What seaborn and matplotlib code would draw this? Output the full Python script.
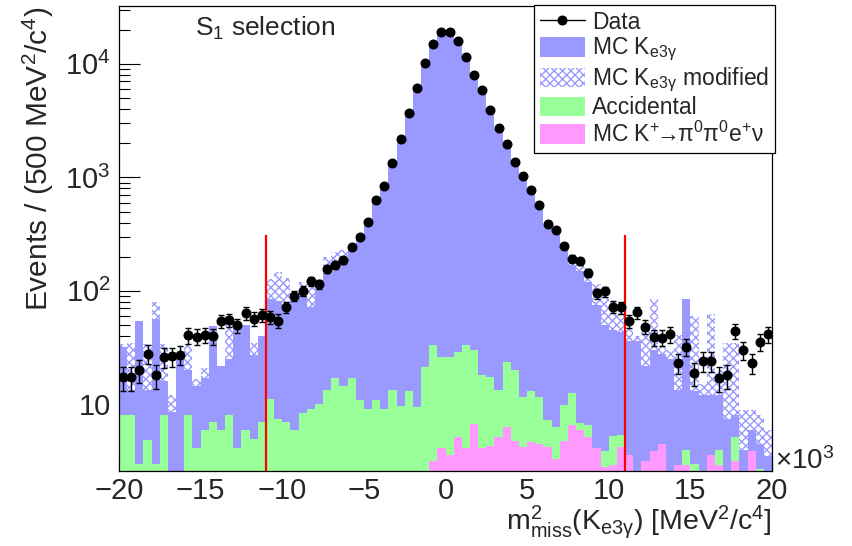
import numpy as np
import pandas as pd
import matplotlib
matplotlib.use("Agg")
import matplotlib.pyplot as plt
import seaborn as sns
from matplotlib.lines import Line2D
from matplotlib.patches import Patch
from matplotlib.ticker import FixedLocator, LogLocator, MultipleLocator, NullFormatter, FixedFormatter

# ---------------- data (x in units of 10^3 MeV^2/c^4, 80 bins of 0.5) ----------------
x_range = (-20, 20)
bin_width = 0.5
bin_centers = np.arange(x_range[0] + bin_width / 2, x_range[1], bin_width)

data = [17.3, 17.3, 20, 28, 18, 26, 26.5, 27.4, 40.6, 39.5,
        41, 40, 54, 55.5, 50, 63.7, 57, 61, 59, 54.6,
        72, 91, 100, 121, 114, 155, 170, 186, 244, 296,
        402, 627, 845, 1345, 2170, 3670, 6160, 10070, 14900, 18970,
        18970, 15900, 11370, 7930, 5870, 3950, 2700, 1960, 1375, 1037,
        769, 573, 392, 343, 250, 192, 183, 144, 95, 99,
        72.5, 71.6, 54.5, 64.7, 48.5, 39, 38.8, 41.5, 23.2, 32.2,
        18.9, 24, 24, 17.1, 18, 44.4, 30, 23.2, 35.4, 41.5]

# MC Ke3gamma (stacked total, visible blue top)
mc_ke3g = [32, 13.5, 54, 13.5, 56, 16, 8.5, 26, 20, 14.5,
           17, 49, 22, 25, 50, 50, 27, 40, 85, 82,
           75, 95, 100, 72, 115, 140, 150, 175, 240, 300,
           400, 620, 850, 1350, 2200, 3700, 6200, 10100, 15000, 19000,
           19000, 15800, 11300, 7900, 5800, 3900, 2650, 1900, 1350, 1000,
           750, 560, 380, 320, 230, 170, 150, 120, 75, 50,
           45, 43, 36, 36, 22, 30, 28, 25, 13.5, 85,
           13, 12, 12, 12, 7.5, 8, 4, 6, 4.5, 3.5]

# MC Ke3gamma modified (stacked total)
mc_ke3g_mod = [34, 35, 54, 34, 79, 34, 12, 26, 34, 16.6,
               21, 49, 22, 60, 50, 50, 35, 40, 128, 146,
               130, 95, 120, 125, 115, 200, 220, 230, 240, 300,
               400, 620, 850, 1350, 2200, 3700, 6200, 10100, 15000, 19000,
               19000, 15800, 11300, 7900, 5800, 3900, 2650, 1900, 1350, 1000,
               750, 560, 380, 350, 260, 200, 190, 160, 115, 104,
               80, 80, 46, 40, 46, 85, 33, 30, 41, 85,
               60, 15, 62, 20, 35, 35, 9, 9, 8, 6]

# Accidental (stacked on top of K -> pi0 pi0 e nu)
accidental = [8.1, 8.1, 3.0, 4.9, 3.0, 8.1, 0, 0, 8.1, 4.1,
              6.0, 7.0, 6.0, 8.1, 4.1, 6.0, 5.0, 7.0, 11.1, 7.4,
              7.0, 6.0, 8.4, 9.1, 10.1, 13.5, 17.1, 14.4, 17.1, 11.0,
              9.1, 11.0, 9.1, 13.5, 9.7, 13.0, 9.4, 21.4, 33.1, 26.3,
              26.3, 28.9, 33.1, 30.1, 18.3, 17.3, 13.3, 23.5, 20, 11.6,
              13.0, 11.6, 7.3, 6.35, 9.9, 12.6, 6.8, 6.6, 0, 3.9,
              5.25, 5.4, 0, 0, 0, 0, 0, 0, 0, 4.0,
              3.0, 0, 0, 4.0, 0, 5.2, 0, 0, 2.7, 0]

# MC K+ -> pi0 pi0 e+ nu
mc_k2pi0e = [0] * 38 + [3.2, 4.1,
             3.6, 5.2, 4.1, 6.7, 4.1, 4.3, 5.2, 6.3, 4.8, 4.2,
             4.7, 4.5, 4.2, 3.3, 4.8, 6.6, 5.9, 5.2, 4.1, 2.8,
             2.9, 4.2, 3.6, 0, 3.2, 3.9, 4.5, 0, 2.9, 2.9,
             0, 0, 3.6, 2.9, 0, 3.2, 0, 3.9, 0, 0]

cut_positions = [-11, 11]
cut_line_top = 310

x_ticks = [-20, -15, -10, -5, 0, 5, 10, 15, 20]
y_ticks = [10, 100, 1000, 10000]
y_tick_labels = ["10", "$10^{2}$", "$10^{3}$", "$10^{4}$"]

# ---------------- style ----------------
sns.set_style("ticks")
plt.rcParams["font.family"] = ["Liberation Sans", "DejaVu Sans"]
plt.rcParams["mathtext.fontset"] = "custom"
plt.rcParams["mathtext.rm"] = "Liberation Sans"
plt.rcParams["mathtext.it"] = "Liberation Sans:italic"
plt.rcParams["mathtext.bf"] = "Liberation Sans:bold"
plt.rcParams["hatch.linewidth"] = 1.0

BLUE = "#9999ff"
GREEN = "#99ff99"
PINK = "#ff99ff"
HATCH = "xxxx"

fig = plt.figure(figsize=(8.53, 5.46), dpi=100)
ax = fig.add_axes([119 / 853, 1 - 471 / 546, 653 / 853, 465 / 546])


def hist(values, color, z):
    df = pd.DataFrame({"x": bin_centers, "w": np.asarray(values, dtype=float)})
    n0 = len(ax.collections)
    sns.histplot(data=df, x="x", weights="w", binwidth=bin_width, binrange=x_range,
                 element="step", fill=True, color=color, alpha=1, linewidth=0, ax=ax)
    coll = ax.collections[n0:]
    for c in coll:
        c.set_zorder(z)
    return coll


hatched = hist(mc_ke3g_mod, BLUE, 1)
for c in hatched:
    c.set_facecolor("white")
    c.set_edgecolor(BLUE)
    c.set_hatch(HATCH)
    c.set_linewidth(0)
hist(mc_ke3g, BLUE, 2)
hist(accidental, GREEN, 3)
hist(mc_k2pi0e, PINK, 4)

ax.set_yscale("log")
ymin, ymax = 2.59, 32300
ax.vlines(cut_positions, ymin, cut_line_top, colors="red", linewidth=1.6, zorder=5)

ax.errorbar(bin_centers, data, yerr=np.sqrt(np.array(data)), fmt="o", color="black",
            markersize=6.2, elinewidth=1, capsize=2.2, capthick=1, zorder=6)

ax.set_xlim(*x_range)
ax.set_ylim(ymin, ymax)

ax.xaxis.set_major_locator(FixedLocator(x_ticks))
ax.xaxis.set_minor_locator(MultipleLocator(1))
ax.yaxis.set_major_locator(FixedLocator(y_ticks))
ax.yaxis.set_major_formatter(FixedFormatter(y_tick_labels))
ax.yaxis.set_minor_locator(LogLocator(base=10, subs=np.arange(2, 10)))
ax.yaxis.set_minor_formatter(NullFormatter())

ax.tick_params(axis="both", which="both", direction="in", width=0.8, color="black")
ax.tick_params(axis="x", which="major", length=9.5, labelsize=21, pad=4)
ax.tick_params(axis="x", which="minor", length=5.5)
ax.tick_params(axis="y", which="major", length=15, labelsize=21, pad=6)
ax.tick_params(axis="y", which="minor", length=8)
for s in ax.spines.values():
    s.set_linewidth(0.9)
    s.set_color("black")
    s.set_zorder(10)

ax.set_ylabel("Events / (500 MeV$^{2}$/c$^{4}$)", fontsize=21.5, loc="top")
ax.yaxis.set_label_coords(-0.097, 1.0)
ax.set_xlabel(r"m$^{2}_{\mathrm{miss}}$(K$_{\mathrm{e3γ}}$) [MeV$^{2}$/c$^{4}$]", fontsize=20.5, loc="right")
ax.xaxis.set_label_coords(1.0, -0.07)

ax.text(1.005, -0.008, r"$\times$10$^{3}$", transform=ax.transAxes, fontsize=20,
        ha="left", va="bottom")
ax.text(0.116, 0.982, "S$_{1}$ selection", transform=ax.transAxes, fontsize=19,
        ha="left", va="top")

handles = [
    Line2D([], [], color="black", marker="o", markersize=6.2, linewidth=1),
    Patch(facecolor=BLUE, edgecolor="none"),
    Patch(facecolor="white", edgecolor=BLUE, hatch=HATCH, linewidth=0),
    Patch(facecolor=GREEN, edgecolor="none"),
    Patch(facecolor=PINK, edgecolor="none"),
]
labels = ["Data", r"MC K$_{\mathrm{e3γ}}$", r"MC K$_{\mathrm{e3γ}}$ modified", "Accidental",
          r"MC K$^{+}\!\!\rightarrow\!\!$π$^{0}$π$^{0}$e$^{+}$ν"]
leg = ax.legend(handles, labels, loc="upper right", bbox_to_anchor=(1.005, 1.002),
                fontsize=16.5, frameon=True, fancybox=False, framealpha=1,
                edgecolor="black", borderpad=0.25, labelspacing=0.1,
                handlelength=2.0, handleheight=0.95, handletextpad=0.3,
                borderaxespad=0)
leg.get_frame().set_linewidth(0.9)
leg.set_zorder(20)

fig.savefig("out.png", dpi=100)
